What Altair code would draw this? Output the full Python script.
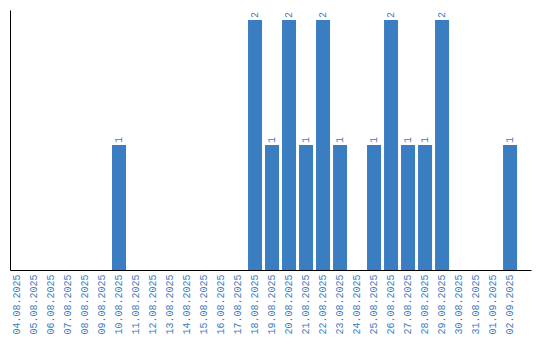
import altair as alt
import pandas as pd

dates = ["04.08.2025", "05.08.2025", "06.08.2025", "07.08.2025", "08.08.2025",
         "09.08.2025", "10.08.2025", "11.08.2025", "12.08.2025", "13.08.2025",
         "14.08.2025", "15.08.2025", "16.08.2025", "17.08.2025", "18.08.2025",
         "19.08.2025", "20.08.2025", "21.08.2025", "22.08.2025", "23.08.2025",
         "24.08.2025", "25.08.2025", "26.08.2025", "27.08.2025", "28.08.2025",
         "29.08.2025", "30.08.2025", "31.08.2025", "01.09.2025", "02.09.2025"]
counts = [0, 0, 0, 0, 0, 0, 1, 0, 0, 0, 0, 0, 0, 0, 2,
          1, 2, 1, 2, 1, 0, 1, 2, 1, 1, 2, 0, 0, 0, 1]

df = pd.DataFrame({"date": dates, "count": counts})
df["label"] = df["count"].apply(lambda v: str(v) if v > 0 else "")

BLUE = "#3b7dc1"
FONT = "Liberation Mono"

xscale = alt.Scale(paddingInner=0.176, paddingOuter=0.41, align=0)
x = alt.X("date:N", sort=dates, title=None, scale=xscale,
          axis=alt.Axis(labelAngle=-90, labelColor=BLUE, labelFont=FONT,
                        labelFontSize=10, ticks=False, labelPadding=4,
                        domainColor="black", domainWidth=1, labelOverlap=False,
                        labelBound=False, labelFlush=False))
y = alt.Y("count:Q", title=None, scale=alt.Scale(domain=[0, 2.08], nice=False),
          axis=alt.Axis(labels=False, ticks=False, grid=False,
                        domainColor="black", domainWidth=1))

bars = alt.Chart(df).mark_bar(color=BLUE).encode(x=x, y=y)
text = alt.Chart(df).mark_text(angle=270, align="left", baseline="middle",
                               dx=2, color=BLUE, font=FONT, fontSize=10).encode(
    x=alt.X("date:N", sort=dates, scale=xscale), y="count:Q", text="label:N")

chart = (bars + text).properties(
    width=521, height=260,
    autosize=alt.AutoSizeParams(type="none"),
    padding={"left": 10, "top": 10, "right": 9, "bottom": 70},
).configure_view(stroke=None)

chart.save("out.html", embed_options={"renderer": "svg", "actions": False})
